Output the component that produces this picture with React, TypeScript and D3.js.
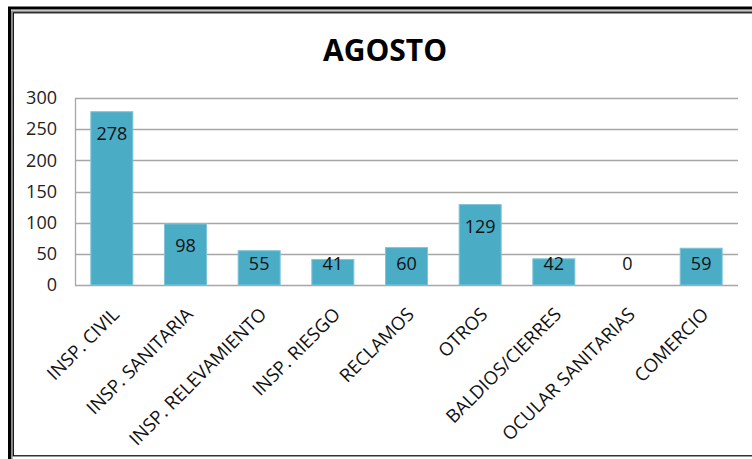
import React from "react";
import * as d3 from "d3";

const title = "AGOSTO";
const categories = [
  "INSP. CIVIL",
  "INSP. SANITARIA",
  "INSP. RELEVAMIENTO",
  "INSP. RIESGO",
  "RECLAMOS",
  "OTROS",
  "BALDIOS/CIERRES",
  "OCULAR SANITARIAS",
  "COMERCIO",
];
const values = [278, 98, 55, 41, 60, 129, 42, 0, 59];
const yTicks = [0, 50, 100, 150, 200, 250, 300];

const W = 752;
const H = 459;
const FONT = "'Open Sans', 'DejaVu Sans', sans-serif";

export default function App() {
  const plotLeft = 75;
  const plotRight = 738;
  const plotTop = 98;
  const plotBottom = 285;

  const x = d3
    .scaleBand<string>()
    .domain(categories)
    .range([plotLeft, plotRight])
    .paddingInner(0.43)
    .paddingOuter(0.215);
  const y = d3.scaleLinear().domain([0, 300]).range([plotBottom, plotTop]);

  return (
    <svg
      width={W}
      height={H}
      style={{ position: "absolute", left: 0, top: 0, background: "#fff" }}
      fontFamily={FONT}
    >
      {/* frame */}
      <rect x={9.5} y={8} width={W + 20} height={H - 4} fill="none" stroke="#000" strokeWidth={3} />
      <rect x={11.8} y={11.3} width={W + 20} height={H - 9} fill="none" stroke="#888" strokeWidth={1.5} />
      <rect x={13.3} y={12.8} width={W + 20} height={443} fill="none" stroke="#000" strokeWidth={1.2} />

      {/* title */}
      <text x={385} y={61} textAnchor="middle" fontSize={30} fontWeight="bold" fill="#000">
        {title}
      </text>

      {/* gridlines */}
      {yTicks.map((t) => (
        <line
          key={t}
          x1={plotLeft}
          x2={plotRight}
          y1={Math.round(y(t)) + 0.5}
          y2={Math.round(y(t)) + 0.5}
          stroke="#a6a6a6"
          strokeWidth={1.3}
        />
      ))}
      <line x1={plotLeft + 0.5} x2={plotLeft + 0.5} y1={plotTop} y2={plotBottom} stroke="#a6a6a6" strokeWidth={1.3} />

      {/* y tick labels */}
      {yTicks.map((t) => (
        <text key={t} x={57} y={y(t)} dy="0.35em" textAnchor="end" fontSize={18} fill="#222">
          {t}
        </text>
      ))}

      {/* bars */}
      {categories.map((c, i) => {
        const v = values[i];
        const bx = x(c)!;
        const by = y(v);
        const h = y(0) - by;
        return (
          <g key={c}>
            {h > 0 && (
              <rect x={bx} y={by} width={x.bandwidth()} height={h} fill="#4bacc6" stroke="#7ec4d8" strokeWidth={1} />
            )}
            <text
              x={bx + x.bandwidth() / 2}
              y={Math.min(by + 28, 270)}
              textAnchor="middle"
              fontSize={18}
              fill="#111"
            >
              {v}
            </text>
          </g>
        );
      })}

      {/* x labels */}
      {categories.map((c) => {
        const cx = x(c)! + x.bandwidth() / 2;
        return (
          <text
            key={c}
            transform={`translate(${cx + 4},${311}) rotate(-45)`}
            textAnchor="end"
            dy="0.35em"
            fontSize={18.5}
            fill="#111"
          >
            {c}
          </text>
        );
      })}
    </svg>
  );
}
